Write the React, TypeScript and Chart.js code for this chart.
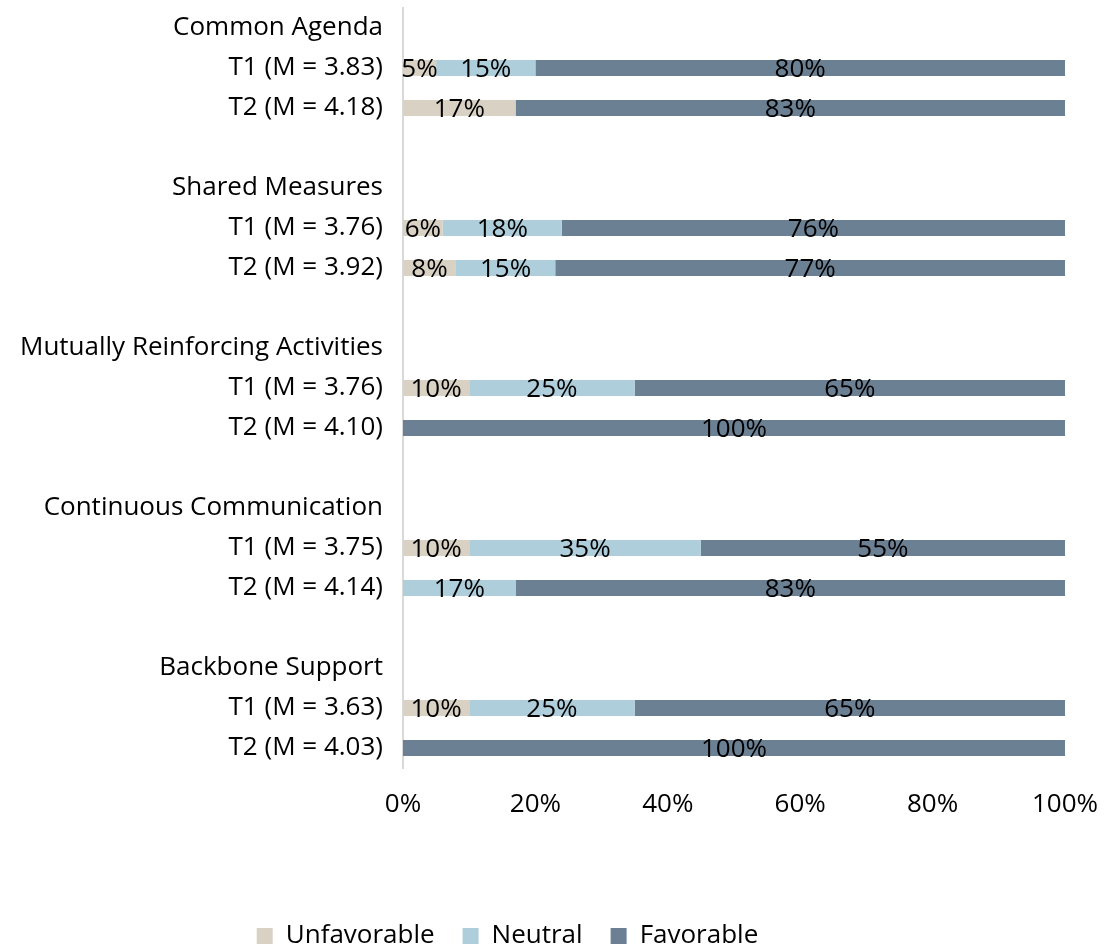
import React, { useEffect, useRef } from "react";
import { Chart, registerables } from "chart.js";

Chart.register(...registerables);

const categories = [
  "Common Agenda", "T1 (M = 3.83)", "T2 (M = 4.18)", "",
  "Shared Measures", "T1 (M = 3.76)", "T2 (M = 3.92)", "",
  "Mutually Reinforcing Activities", "T1 (M = 3.76)", "T2 (M = 4.10)", "",
  "Continuous Communication", "T1 (M = 3.75)", "T2 (M = 4.14)", "",
  "Backbone Support", "T1 (M = 3.63)", "T2 (M = 4.03)",
];

const unfavorable = [null, 5, 17, null, null, 6, 8, null, null, 10, 0, null, null, 10, 0, null, null, 10, 0];
const neutral = [null, 15, 0, null, null, 18, 15, null, null, 25, 0, null, null, 35, 17, null, null, 25, 0];
const favorable = [null, 80, 83, null, null, 76, 77, null, null, 65, 100, null, null, 55, 83, null, null, 65, 100];

const xTicks = [0, 20, 40, 60, 80, 100];

const FONT = "'Open Sans', sans-serif";
const FS = 26;

const labelPlugin = {
  id: "segLabels",
  afterDatasetsDraw(chart: any) {
    const ctx = chart.ctx;
    ctx.save();
    ctx.font = `${FS}px ${FONT}`;
    ctx.fillStyle = "#000";
    ctx.textAlign = "center";
    ctx.textBaseline = "middle";
    chart.data.datasets.forEach((ds: any, di: number) => {
      const meta = chart.getDatasetMeta(di);
      meta.data.forEach((bar: any, i: number) => {
        const v = ds.data[i];
        if (v === null || v === undefined || v === 0) return;
        const cx = (bar.x + bar.base) / 2;
        ctx.fillText(`${v}%`, cx, bar.y + 2);
      });
    });
    ctx.restore();
  },
};

const legendShift = {
  id: "legendShift",
  afterLayout(chart: any) {
    const lg = chart.legend;
    if (lg) {
      lg.left -= 25;
      lg.right -= 25;
      lg.top += 10;
      lg.bottom += 10;
    }
  },
};

export default function App() {
  const ref = useRef<HTMLCanvasElement>(null);
  useEffect(() => {
    document.body.style.margin = "0";
    const chart = new Chart(ref.current!, {
      type: "bar",
      data: {
        labels: categories,
        datasets: [
          { label: "Unfavorable", data: unfavorable, backgroundColor: "#D9D2C4" },
          { label: "Neutral", data: neutral, backgroundColor: "#ADCEDA" },
          { label: "Favorable", data: favorable, backgroundColor: "#6C8094" },
        ],
      },
      options: {
        indexAxis: "y",
        animation: false,
        responsive: false,
        maintainAspectRatio: false,
        layout: { padding: { top: 8, bottom: 0, left: 0, right: 43 } },
        datasets: {
          bar: { barPercentage: 0.4, categoryPercentage: 1 },
        },
        scales: {
          x: {
            stacked: true,
            min: 0,
            max: 100,
            afterBuildTicks: (s: any) => {
              s.ticks = xTicks.map((v) => ({ value: v }));
            },
            grid: { display: false, drawTicks: false },
            border: { display: false },
            ticks: {
              color: "#000",
              font: { family: FONT, size: FS },
              padding: 21,
              callback: (v: any) => `${v}%`,
              maxRotation: 0,
            },
            afterFit: (s: any) => {
              s.height = 117;
              s.paddingLeft = 0;
              s.paddingRight = 0;
            },
          },
          y: {
            stacked: true,
            grid: { display: false, drawTicks: false },
            border: { display: true, color: "#D9D9D9", width: 2 },
            ticks: {
              color: "#000",
              font: { family: FONT, size: FS },
              padding: 20,
              autoSkip: false,
            },
            afterFit: (s: any) => {
              s.width = 403;
              s.paddingTop = 0;
              s.paddingBottom = 0;
            },
          },
        },
        plugins: {
          legend: {
            position: "bottom",
            labels: {
              color: "#000",
              font: { family: FONT, size: FS },
              boxWidth: 16,
              boxHeight: 16,
              padding: 28,
            },
          },
          tooltip: { enabled: false },
        },
      },
      plugins: [labelPlugin, legendShift],
    } as any);
    return () => chart.destroy();
  }, []);
  return (
    <div style={{ width: 1108, height: 949 }}>
      <canvas ref={ref} width={1108} height={949} style={{ display: "block" }} />
    </div>
  );
}
